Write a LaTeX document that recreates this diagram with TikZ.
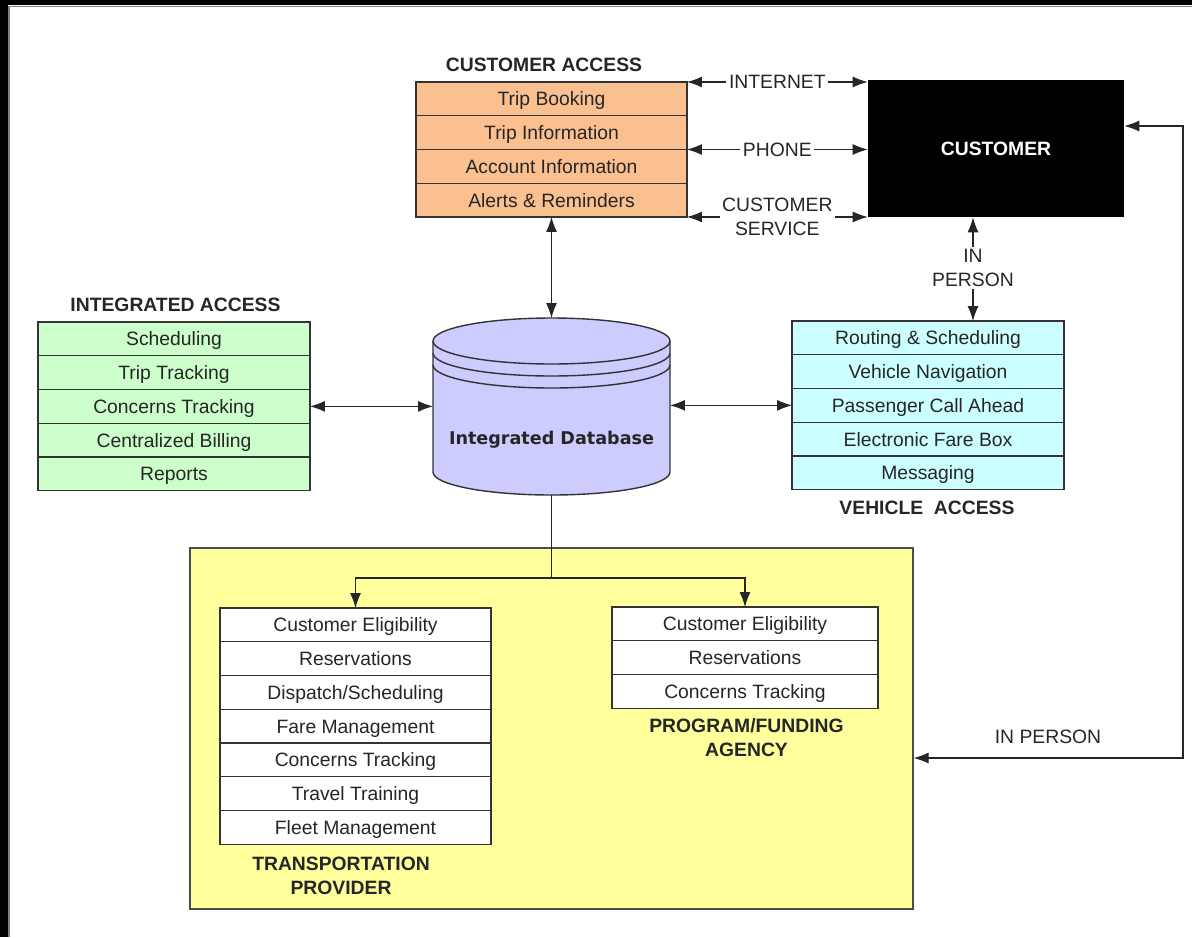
\documentclass[tikz,border=0pt]{standalone}
\usepackage{fontspec}
\setmainfont{Liberation Sans}
\newfontfamily\dbfont{DejaVu Sans}
\usepackage{tikz}
\usetikzlibrary{arrows.meta,positioning,calc}

\definecolor{caorange}{HTML}{FAC090}
\definecolor{iagreen}{HTML}{CCFFCC}
\definecolor{vacyan}{HTML}{CCFFFF}
\definecolor{dbblue}{HTML}{CCCCFF}
\definecolor{provyellow}{HTML}{FFFF9C}
\definecolor{edgegray}{HTML}{333333}

\begin{document}
\begin{tikzpicture}[x=0.02cm,y=-0.02cm,>={Latex[length=3mm,width=2.2mm]},font=\fontsize{11}{13.5}\selectfont]
    \tikzstyle{cellbox}=[rectangle, draw=edgegray, line width=0.8pt, outer sep=0pt, inner sep=0pt, minimum height=0.675cm, text height=7.9pt, text depth=0pt, text=black!85]
    \tikzstyle{carow}=[cellbox, fill=caorange, minimum width=5.42cm]
    \tikzstyle{iarow}=[cellbox, fill=iagreen, minimum width=5.44cm]
    \tikzstyle{varow}=[cellbox, fill=vacyan, minimum width=5.44cm]
    \tikzstyle{tprow}=[cellbox, fill=white, minimum width=5.42cm]
    \tikzstyle{pfarow}=[cellbox, fill=white, minimum width=5.32cm]
    \tikzstyle{heading}=[font=\fontsize{11}{13.5}\selectfont\bfseries, align=center, text=black!85]
    \tikzstyle{conn}=[line width=0.6pt, draw=black!85]
    \tikzstyle{linklabel}=[fill=white, inner sep=1.5pt, align=center, text=black!85]

    % frame
    \useasboundingbox (0,0) rectangle (1192,937);
    \fill[black] (0,0) rectangle (1192,5);
    \fill[black] (0,0) rectangle (8,937);
    \draw[gray, line width=0.8pt] (9,937) -- (9,6.5) -- (1192,6.5);

    % provider / agency area
    \node[rectangle, draw=black!70, line width=0.8pt, fill=provyellow, minimum width=14.46cm, minimum height=7.22cm] (agencies) at (551.5,728.5) {};

    % customer access
    \node[heading] (catitle) at (544,65) {CUSTOMER ACCESS};
    \node[carow, anchor=north] (ca1) at (551.5,82) {Trip Booking};
    \node[carow] (ca2) [below=0pt of ca1] {Trip Information};
    \node[carow] (ca3) [below=0pt of ca2] {Account Information};
    \node[carow] (ca4) [below=0pt of ca3] {Alerts \& Reminders};

    % customer
    \node[rectangle, fill=black, minimum width=5.12cm, minimum height=2.74cm, text=white, font=\fontsize{11}{13.5}\selectfont\bfseries] (cust) at (996,148.5) {CUSTOMER};

    % integrated access
    \node[heading] (iatitle) at (175.5,305) {INTEGRATED ACCESS};
    \node[iarow, anchor=north] (ia1) at (174,322) {Scheduling};
    \node[iarow] (ia2) [below=0pt of ia1] {Trip Tracking};
    \node[iarow] (ia3) [below=0pt of ia2] {Concerns Tracking};
    \node[iarow] (ia4) [below=0pt of ia3] {Centralized Billing};
    \node[iarow] (ia5) [below=0pt of ia4] {Reports};

    % vehicle access
    \node[varow, anchor=north] (va1) at (928,321) {Routing \& Scheduling};
    \node[varow] (va2) [below=0pt of va1] {Vehicle Navigation};
    \node[varow] (va3) [below=0pt of va2] {Passenger Call Ahead};
    \node[varow] (va4) [below=0pt of va3] {Electronic Fare Box};
    \node[varow] (va5) [below=0pt of va4] {Messaging};
    \node[heading] (vatitle) at (927,508) {VEHICLE\ \ ACCESS};

    % database
    \filldraw[fill=dbblue, draw=edgegray, line width=0.8pt] (433,341) -- (433,472)
        arc[start angle=180, end angle=360, x radius=2.37cm, y radius=0.46cm] -- (670,341)
        arc[start angle=0, end angle=180, x radius=2.37cm, y radius=0.46cm] -- cycle;
    \draw[edgegray, line width=0.8pt] (433,341) arc[start angle=180, end angle=360, x radius=2.37cm, y radius=0.46cm];
    \draw[edgegray, line width=0.8pt] (433,353) arc[start angle=180, end angle=360, x radius=2.37cm, y radius=0.46cm];
    \draw[edgegray, line width=0.8pt] (433,365) arc[start angle=180, end angle=360, x radius=2.37cm, y radius=0.46cm];
    \node[minimum width=4.74cm, minimum height=3.54cm, inner sep=0pt, outer sep=0pt] (db) at (551.5,406.5) {};
    \node[font=\dbfont\fontsize{10}{12}\selectfont\bfseries, text=black!85] (dblabel) at (551.5,440) {Integrated Database};

    % transportation provider
    \node[tprow, anchor=north] (tp1) at (355.5,608) {Customer Eligibility};
    \node[tprow] (tp2) [below=0pt of tp1] {Reservations};
    \node[tprow] (tp3) [below=0pt of tp2] {Dispatch/Scheduling};
    \node[tprow] (tp4) [below=0pt of tp3] {Fare Management};
    \node[tprow] (tp5) [below=0pt of tp4] {Concerns Tracking};
    \node[tprow] (tp6) [below=0pt of tp5] {Travel Training};
    \node[tprow] (tp7) [below=0pt of tp6] {Fleet Management};
    \node[heading] (tptitle) at (341,875.5) {TRANSPORTATION\\PROVIDER};

    % program / funding agency
    \node[pfarow, anchor=north] (pfa1) at (745,607) {Customer Eligibility};
    \node[pfarow] (pfa2) [below=0pt of pfa1] {Reservations};
    \node[pfarow] (pfa3) [below=0pt of pfa2] {Concerns Tracking};
    \node[heading] (pfatitle) at (746.5,737.5) {PROGRAM/FUNDING\\AGENCY};

    % links to the customer
    \draw[conn, <->] (ca1.north east) -- (ca1.north east -| cust.west) node[midway, linklabel] {INTERNET};
    \draw[conn, <->] (ca3.north east) -- (ca3.north east -| cust.west) node[midway, linklabel] {PHONE};
    \draw[conn, <->] (ca4.south east) -- (ca4.south east -| cust.west) node[midway, linklabel] {CUSTOMER\\SERVICE};
    \node[linklabel, inner sep=1pt] (inperson) at (973,268) {IN\\PERSON};
    \draw[conn, ->] (inperson) -- (inperson |- cust.south);
    \draw[conn, ->] (inperson) -- (inperson |- va1.north);

    \coordinate (loopt) at (1183,126);
    \coordinate (loopb) at (1183,758);
    \draw[conn, <->] (loopt -| cust.east) -- (loopt) -- (loopb) -- (loopb -| agencies.east);
    \node[text=black!85] (inperson2) at (1048,737) {IN PERSON};

    % database links
    \draw[conn, <->] (ca4.south) -- (db.north);
    \draw[conn, <->] (ia3.east) -- (ia3.east -| db.west);
    \draw[conn, <->] (va3.west -| db.east) -- (va3.west);
    \coordinate (split) at (551.5,578);
    \draw[conn] (db.south) -- (split);
    \draw[conn, ->] (split) -| (tp1.north);
    \draw[conn, ->] (split) -| (pfa1.north);
\end{tikzpicture}
\end{document}
